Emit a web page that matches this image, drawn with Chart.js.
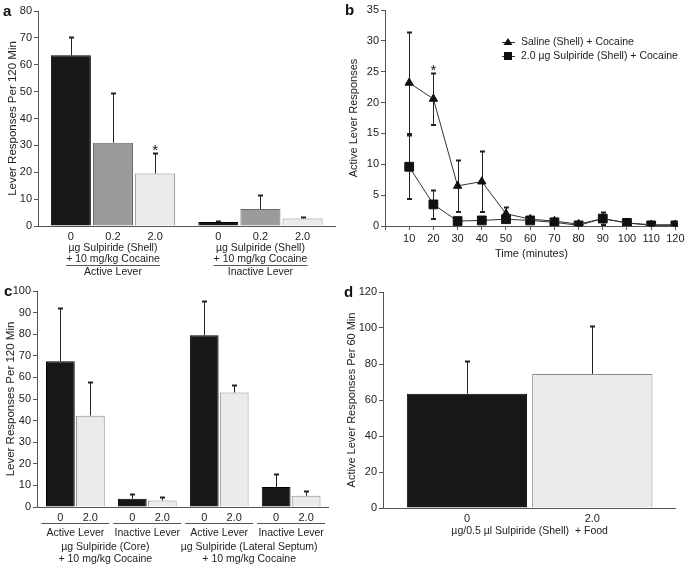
<!DOCTYPE html>
<html>
<head>
<meta charset="utf-8">
<script src="https://cdn.jsdelivr.net/npm/chart.js@4/dist/chart.umd.min.js"></script>
<style>
  body { margin: 0; background: #fff; }
  #wrap { position: relative; width: 685px; height: 565px; overflow: hidden; }
  canvas { position: absolute; }
  .tag { position: absolute; font: bold 15px 'Liberation Sans', Arial, sans-serif; color: #111; line-height: 15px; }
</style>
</head>
<body>
<div id="wrap">
  <canvas id="chartA" width="340" height="280" style="left:0;top:0"></canvas>
  <canvas id="chartB" width="345" height="280" style="left:340px;top:0"></canvas>
  <canvas id="chartC" width="340" height="285" style="left:0;top:280px"></canvas>
  <canvas id="chartD" width="345" height="285" style="left:340px;top:280px"></canvas>
  <div class="tag" style="left:3px;top:3px">a</div>
  <div class="tag" style="left:345px;top:2px">b</div>
  <div class="tag" style="left:4px;top:283px">c</div>
  <div class="tag" style="left:344px;top:284px">d</div>
</div>
<script>
// panel a: shell infusion, cocaine
const aDoses = ['0', '0.2', '2.0'];
const aLevers = ['Active Lever', 'Inactive Lever'];
const aActive = [63.5, 31.0, 19.5];
const aActiveErr = [6.8, 18.5, 7.8];
const aInactive = [1.5, 6.3, 2.8];
const aInactiveErr = [0.5, 5.2, 0.7];
const aStar = [false, false, true]; // 2.0 on active lever

// panel b: time course
const bTimes = [10, 20, 30, 40, 50, 60, 70, 80, 90, 100, 110, 120];
const bSaline = [23.2, 20.6, 6.5, 7.2, 2.0, 1.1, 0.8, 0.3, 1.2, 0.5, 0.2, 0.2];
const bSalineErr = [8.3, 4.2, 4.2, 5.0, 1.0, 0.3, 0.3, 0.2, 1.1, 0.2, 0.1, 0.1];
const bSulp = [9.6, 3.5, 0.8, 0.9, 1.1, 0.9, 0.6, 0.1, 1.2, 0.5, 0.1, 0.1];
const bSulpErr = [5.2, 2.3, 0.2, 0.3, 0.5, 0.3, 0.2, 0.1, 0.2, 0.1, 0.1, 0.1];
const bStarTime = 20;

// panel c: core and lateral septum
const cDoses = ['0', '2.0'];
const cLevers = ['Active Lever', 'Inactive Lever', 'Active Lever', 'Inactive Lever'];
const cSites = ['\u00b5g Sulpiride (Core)', '\u00b5g Sulpiride (Lateral Septum)'];
const cMeans = [67.5, 42.3, 3.8, 3.0, 79.5, 53.0, 9.3, 5.2];
const cErr = [24.8, 15.7, 2.4, 1.6, 16.0, 3.5, 6.0, 2.1];

// panel d: food
const dDoses = ['0', '2.0'];
const dMeans = [63.5, 74.5];
const dErr = [18.3, 26.5];

const INK = '#555';
const TXT = '#222';
const FONT = "'Liberation Sans', Arial, sans-serif";
const SMALL = '10.5px ' + FONT;
const FILL = { '0': '#171717', '0.2': '#9b9b9b', '2.0': '#ebebeb' };
const EDGE = { '0': '#000', '0.2': '#6a6a6a', '2.0': '#8c8c8c' };

Chart.defaults.font.family = FONT;
Chart.defaults.font.size = 11;
Chart.defaults.color = TXT;
Chart.defaults.animation = false;
Chart.defaults.plugins.legend.display = false;
Chart.defaults.plugins.tooltip.enabled = false;

function valueAxis(max, step, title, width, titleSize, titlePad) {
  return {
    min: 0, max: max,
    ticks: { stepSize: step, padding: 2 },
    grid: { drawOnChartArea: false, tickLength: 4, color: INK },
    border: { color: INK },
    title: { display: true, text: title, font: { size: titleSize }, padding: { top: titlePad, bottom: 0 } },
    afterFit(s) { s.width = width; }
  };
}

function slotAxis(min, max, slots, label, height) {
  return {
    type: 'linear', min: min, max: max, offset: false,
    afterBuildTicks(s) { s.ticks = slots.map(v => ({ value: v })); },
    ticks: { autoSkip: false, maxRotation: 0, padding: 4, callback: (v, i) => label(i) },
    grid: { display: false, drawTicks: false, offset: false },
    border: { color: INK },
    afterFit(s) { s.height = height; s.paddingLeft = 0; s.paddingRight = 0; }
  };
}

const errorBars = {
  id: 'errorBars',
  beforeDatasetsDraw(chart, args, opts) {
    const ctx = chart.ctx, y = chart.scales.y;
    ctx.save();
    ctx.strokeStyle = '#222';
    ctx.fillStyle = '#222';
    ctx.lineWidth = 1;
    opts.errors.forEach((errs, d) => {
      const pts = chart.data.datasets[d].data;
      chart.getDatasetMeta(d).data.forEach((el, k) => {
        const v = pts[k].y;
        const x = Math.round(el.x) + 0.5;
        const top = Math.round(y.getPixelForValue(v + errs[k]));
        const bot = opts.both ? Math.round(y.getPixelForValue(Math.max(0, v - errs[k]))) : el.y;
        ctx.beginPath();
        ctx.moveTo(x, bot);
        ctx.lineTo(x, top);
        ctx.stroke();
        ctx.fillRect(x - 0.5 - opts.cap, top - 0.5, opts.cap * 2 + 1, 2);
        if (opts.both) ctx.fillRect(x - 0.5 - opts.cap, bot - 1, opts.cap * 2 + 1, 2);
      });
    });
    ctx.restore();
  }
};

function star(ctx, x, y) {
  ctx.save();
  ctx.font = '15px ' + FONT;
  ctx.fillStyle = '#111';
  ctx.textAlign = 'center';
  ctx.textBaseline = 'alphabetic';
  ctx.fillText('*', x, y + 2.5);
  ctx.restore();
}

function label(ctx, s, x, y) {
  ctx.fillText(s, x, y);
}

// ---------- panel a ----------
const aSlots = [], aPts = [], aErrs = [], aFills = [], aEdges = [];
[[aActive, aActiveErr], [aInactive, aInactiveErr]].forEach(([vals, errs], g) => {
  vals.forEach((v, i) => {
    const x = g * 3.5 + i;
    aSlots.push(x);
    aPts.push({ x: x, y: v });
    aErrs.push(errs[i]);
    aFills.push(FILL[aDoses[i]]);
    aEdges.push(EDGE[aDoses[i]]);
  });
});

new Chart(document.getElementById('chartA'), {
  type: 'bar',
  data: { datasets: [{ data: aPts, backgroundColor: aFills, borderColor: aEdges, borderWidth: 1, barPercentage: 0.95, categoryPercentage: 1 }] },
  options: {
    responsive: false,
    layout: { padding: { top: 11, right: 5 } },
    plugins: { errorBars: { errors: [aErrs], both: false, cap: 2 } },
    scales: {
      x: slotAxis(-0.78, 6.27, aSlots, i => aDoses[i % 3], 54),
      y: valueAxis(80, 10, 'Lever Responses Per 120 Min', 38, 11.5, 6)
    }
  },
  plugins: [errorBars, {
    id: 'aText',
    afterDraw(chart) {
      const ctx = chart.ctx, x = chart.scales.x, y = chart.scales.y;
      aStar.forEach((s, i) => { if (s) star(ctx, x.getPixelForValue(aSlots[i]), y.getPixelForValue(aActive[i] + aActiveErr[i])); });
      ctx.save();
      ctx.font = SMALL;
      ctx.fillStyle = TXT;
      ctx.strokeStyle = INK;
      ctx.textAlign = 'center';
      ctx.textBaseline = 'middle';
      aLevers.forEach((name, g) => {
        const cx = x.getPixelForValue(g * 3.5 + 1);
        label(ctx, '\u00b5g Sulpiride (Shell)', cx, 248);
        label(ctx, '+ 10 mg/kg Cocaine', cx, 259.5);
        ctx.beginPath();
        ctx.moveTo(cx - 47, 265.5);
        ctx.lineTo(cx + 47, 265.5);
        ctx.stroke();
        label(ctx, name, cx, 272.5);
      });
      ctx.restore();
    }
  }]
});

// ---------- panel b ----------
new Chart(document.getElementById('chartB'), {
  type: 'line',
  data: {
    datasets: [
      { label: 'Saline (Shell) + Cocaine', data: bTimes.map((t, i) => ({ x: t, y: bSaline[i] })),
        borderColor: '#333', borderWidth: 1, pointStyle: 'triangle', pointRadius: 4.8,
        pointBackgroundColor: '#111', pointBorderColor: '#111', pointBorderWidth: 1 },
      { label: '2.0 \u00b5g Sulpiride (Shell) + Cocaine', data: bTimes.map((t, i) => ({ x: t, y: bSulp[i] })),
        borderColor: '#333', borderWidth: 1, pointStyle: 'rect', pointRadius: 6.2,
        pointBackgroundColor: '#111', pointBorderColor: '#111', pointBorderWidth: 1 }
    ]
  },
  options: {
    responsive: false,
    layout: { padding: { top: 10, right: 5 } },
    plugins: { errorBars: { errors: [bSalineErr, bSulpErr], both: true, cap: 2 } },
    scales: {
      x: {
        type: 'linear', min: 0, max: 121,
        ticks: { stepSize: 10, includeBounds: false, autoSkip: false, maxRotation: 0, padding: 2, callback: v => v === 0 ? '' : v },
        grid: { drawOnChartArea: false, tickLength: 4, color: INK },
        border: { color: INK },
        title: { display: true, text: 'Time (minutes)', font: { size: 11 }, padding: { top: 1, bottom: 19 } },
        afterFit(s) { s.height = 54; s.paddingLeft = 0; s.paddingRight = 0; }
      },
      y: valueAxis(35, 5, 'Active Lever Responses', 45, 11, 7)
    }
  },
  plugins: [errorBars, {
    id: 'bText',
    afterDraw(chart) {
      const ctx = chart.ctx, x = chart.scales.x, y = chart.scales.y;
      const k = bTimes.indexOf(bStarTime);
      star(ctx, x.getPixelForValue(bStarTime), y.getPixelForValue(bSaline[k] + bSalineErr[k]));
      ctx.save();
      ctx.font = SMALL;
      ctx.fillStyle = TXT;
      ctx.textBaseline = 'middle';
      chart.data.datasets.forEach((ds, i) => {
        const ly = 42 + i * 14, lx = 168;
        ctx.strokeStyle = '#333';
        ctx.beginPath();
        ctx.moveTo(lx - 6, ly + 0.5);
        ctx.lineTo(lx + 7, ly + 0.5);
        ctx.stroke();
        ctx.fillStyle = '#111';
        if (ds.pointStyle === 'triangle') {
          ctx.beginPath();
          ctx.moveTo(lx, ly - 4);
          ctx.lineTo(lx + 4.5, ly + 3);
          ctx.lineTo(lx - 4.5, ly + 3);
          ctx.closePath();
          ctx.fill();
        } else {
          ctx.fillRect(lx - 4, ly - 4, 8, 8);
        }
        ctx.fillStyle = TXT;
        ctx.fillText(ds.label, 181, ly);
      });
      ctx.restore();
    }
  }]
});

// ---------- panel c ----------
const cSlots = cMeans.map((v, k) => Math.floor(k / 2) * 2.4 + (k % 2));
new Chart(document.getElementById('chartC'), {
  type: 'bar',
  data: {
    datasets: [{
      data: cMeans.map((v, k) => ({ x: cSlots[k], y: v })),
      backgroundColor: cSlots.map((s, k) => FILL[cDoses[k % 2]]),
      borderColor: cSlots.map((s, k) => EDGE[cDoses[k % 2]]),
      borderWidth: 1, barPercentage: 0.96, categoryPercentage: 1
    }]
  },
  options: {
    responsive: false,
    layout: { padding: { top: 11, right: 12 } },
    plugins: { errorBars: { errors: [cErr], both: false, cap: 2 } },
    scales: {
      x: slotAxis(-0.78, 8.93, cSlots, i => cDoses[i % 2], 58),
      y: valueAxis(100, 10, 'Lever Responses Per 120 Min', 37, 11.5, 4)
    }
  },
  plugins: [errorBars, {
    id: 'cText',
    afterDraw(chart) {
      const ctx = chart.ctx, x = chart.scales.x;
      ctx.save();
      ctx.font = SMALL;
      ctx.fillStyle = TXT;
      ctx.strokeStyle = INK;
      ctx.textAlign = 'center';
      ctx.textBaseline = 'middle';
      const centers = cLevers.map((name, p) => x.getPixelForValue(p * 2.4 + 0.5));
      cLevers.forEach((name, p) => {
        const cx = centers[p];
        ctx.beginPath();
        ctx.moveTo(cx - 34, 243.5);
        ctx.lineTo(cx + 34, 243.5);
        ctx.stroke();
        label(ctx, name, cx, 253);
      });
      cSites.forEach((site, s) => {
        const cx = (centers[s * 2] + centers[s * 2 + 1]) / 2 - 6;
        label(ctx, site, cx, 267.5);
        label(ctx, '+ 10 mg/kg Cocaine', cx, 279);
      });
      ctx.restore();
    }
  }]
});

// ---------- panel d ----------
const dSlots = dMeans.map((v, i) => i);
new Chart(document.getElementById('chartD'), {
  type: 'bar',
  data: {
    datasets: [{
      data: dMeans.map((v, i) => ({ x: dSlots[i], y: v })),
      backgroundColor: dDoses.map(d => FILL[d]),
      borderColor: dDoses.map(d => EDGE[d]),
      borderWidth: 1, barPercentage: 0.96, categoryPercentage: 1
    }]
  },
  options: {
    responsive: false,
    layout: { padding: { top: 12, right: 10 } },
    plugins: { errorBars: { errors: [dErr], both: false, cap: 2 } },
    scales: {
      x: slotAxis(-0.67, 1.66, dSlots, i => dDoses[i], 57),
      y: valueAxis(120, 20, 'Active Lever Responses Per 60 Min', 43, 11, 5)
    }
  },
  plugins: [errorBars, {
    id: 'dText',
    afterDraw(chart) {
      const ctx = chart.ctx, x = chart.scales.x;
      ctx.save();
      ctx.font = SMALL;
      ctx.fillStyle = TXT;
      ctx.textAlign = 'center';
      ctx.textBaseline = 'middle';
      label(ctx, '\u00b5g/0.5 \u00b5l Sulpiride (Shell)  + Food', x.getPixelForValue(0.5), 251);
      ctx.restore();
    }
  }]
});
</script>
</body>
</html>
